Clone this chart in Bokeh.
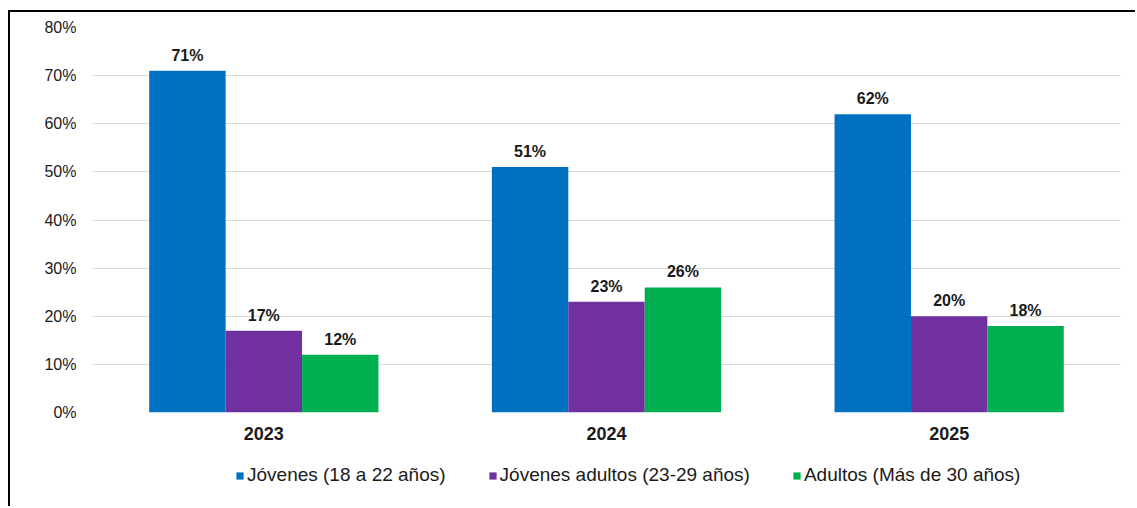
from bokeh.plotting import figure
from bokeh.layouts import column
from bokeh.models import ColumnDataSource, FactorRange, Legend, LegendItem, FixedTicker, LabelSet, Range1d
from bokeh.core.properties import value
from bokeh.transform import dodge
from bokeh.embed import file_html
from bokeh.resources import INLINE

years = ["2023", "2024", "2025"]
jovenes = [71, 51, 62]
jovenes_adultos = [17, 23, 20]
adultos = [12, 26, 18]
series_names = ["Jóvenes (18 a 22 años)", "Jóvenes adultos (23-29 años)", "Adultos (Más de 30 años)"]
series_colors = ["#0070C0", "#7030A0", "#00B050"]
y_ticks = [0, 10, 20, 30, 40, 50, 60, 70, 80]

FONT = "Liberation Sans"
TXT = "#1a1a1a"

src = ColumnDataSource(dict(
    year=years,
    s0=jovenes, s1=jovenes_adultos, s2=adultos,
    l0=[f"{v}%" for v in jovenes],
    l1=[f"{v}%" for v in jovenes_adultos],
    l2=[f"{v}%" for v in adultos],
))

W = 1125
p = figure(x_range=FactorRange(*years), y_range=Range1d(0, 80),
           width=W, height=440, output_backend="svg", toolbar_location=None,
           min_border_left=82, min_border_right=15, min_border_top=15, min_border_bottom=40)
p.outline_line_color = None
p.background_fill_color = "white"
p.border_fill_color = "white"

bw = 0.223
offsets = [-bw, 0.0, bw]
for i, col in enumerate(series_colors):
    p.vbar(x=dodge("year", offsets[i], range=p.x_range), top=f"s{i}", width=bw,
           source=src, fill_color=col, line_color=None)
    lbl = LabelSet(x=dodge("year", offsets[i], range=p.x_range), y=f"s{i}", text=f"l{i}",
                   source=src, text_align="center", text_baseline="bottom", y_offset=7,
                   text_font=value(FONT), text_font_size=value("16px"),
                   text_font_style=value("bold"), text_color=value(TXT))
    p.add_layout(lbl)

p.yaxis.ticker = FixedTicker(ticks=y_ticks)
p.yaxis.major_label_overrides = {v: f"{v}%" for v in y_ticks}
p.yaxis.axis_line_color = None
p.yaxis.major_tick_line_color = None
p.yaxis.minor_tick_line_color = None
p.yaxis.major_label_text_font = FONT
p.yaxis.major_label_text_font_size = "16px"
p.yaxis.major_label_text_color = TXT
p.yaxis.major_label_standoff = 10

p.xaxis.axis_line_color = None
p.xaxis.major_tick_line_color = None
p.xaxis.major_label_text_font = FONT
p.xaxis.major_label_text_font_size = "18px"
p.xaxis.major_label_text_font_style = "bold"
p.xaxis.major_label_text_color = TXT
p.xaxis.major_label_standoff = 8

p.xgrid.grid_line_color = None
p.ygrid.grid_line_color = "#d9d9d9"
p.ygrid.grid_line_width = 1
p.ygrid.ticker = FixedTicker(ticks=y_ticks)

# legend strip (its frame is aligned with the chart frame by the column layout)
pl = figure(width=W, height=54, x_range=Range1d(0, 1000), y_range=Range1d(0, 54),
            x_axis_type=None, y_axis_type=None, output_backend="svg", toolbar_location=None,
            min_border_left=0, min_border_right=0, min_border_top=0, min_border_bottom=0)
pl.outline_line_color = None
pl.xgrid.visible = False
pl.ygrid.visible = False
pl.border_fill_color = "white"
# a single off-range row so that each legend swatch has a glyph to draw
swatch_src = ColumnDataSource(dict(x=[-100], top=[0]))
items = []
for name, col in zip(series_names, series_colors):
    r = pl.vbar(x="x", top="top", width=1, source=swatch_src, fill_color=col, line_color=None)
    items.append(LegendItem(label=name, renderers=[r]))

legend = Legend(items=items, orientation="horizontal", location=(143, 20),
                border_line_color=None, background_fill_alpha=0,
                label_text_font=FONT, label_text_font_size="19px", label_text_color=TXT,
                glyph_width=9, glyph_height=9, label_standoff=3, spacing=42,
                padding=0, margin=0)
pl.add_layout(legend)

layout = column(p, pl, spacing=0, margin=(10, 0, 0, 8),
                styles={"border-left": "2px solid black", "border-top": "2px solid black",
                        "background-color": "white"})

open("out.html", "w").write(file_html(layout, INLINE))
